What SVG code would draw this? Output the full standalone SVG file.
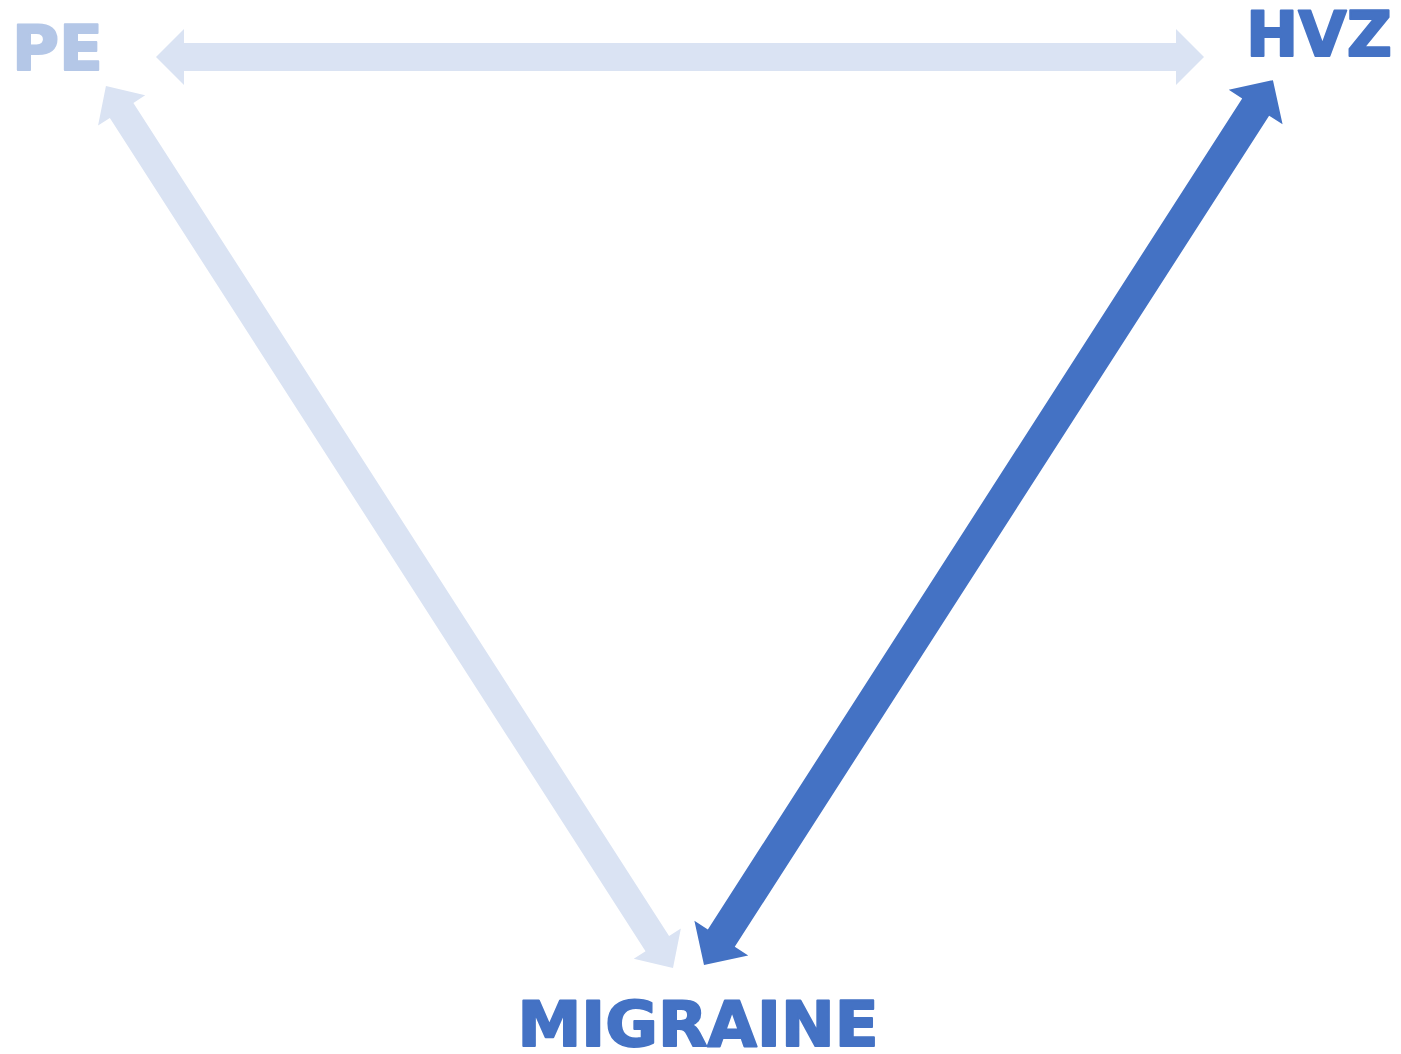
<svg xmlns="http://www.w3.org/2000/svg" width="1401" height="1054" viewBox="0 0 1401 1054">
<style>
.lbl{font-family:"DejaVu Sans","Liberation Sans",sans-serif;font-weight:bold;font-size:62px;text-anchor:middle;stroke-width:2;stroke-linejoin:round}
.light{fill:#DAE3F3}
.dark{fill:#4472C4}
</style>
<rect width="1401" height="1054" fill="#FFFFFF"/>
<g id="connectors">
<polygon id="pe-hvz" class="light" transform="translate(156,57)" points="0,0 28,-28 28,-14 1020,-14 1020,-28 1048,0 1020,28 1020,14 28,14 28,28"/>
<polygon id="migraine-pe" class="light" transform="translate(673,968) rotate(-122.74)" points="0,0 29,-28 29,-14 1019.5,-14 1019.5,-28 1048.5,0 1019.5,28 1019.5,14 29,14 29,28"/>
<polygon id="migraine-hvz" class="dark" transform="translate(704,965) rotate(-57.26)" points="0,0 32,-32 32,-16 1020,-16 1020,-32 1052,0 1020,32 1020,16 32,16 32,32"/>
</g>
<g id="node-pe"><text class="lbl" x="57.5" y="70" fill="#B4C7E7" stroke="#B4C7E7" textLength="91" lengthAdjust="spacingAndGlyphs">PE</text></g>
<g id="node-hvz"><text class="lbl" x="1319" y="55.5" fill="#4472C4" stroke="#4472C4" textLength="146" lengthAdjust="spacingAndGlyphs">HVZ</text></g>
<g id="node-migraine"><text class="lbl" x="698" y="1045.5" fill="#4472C4" stroke="#4472C4" textLength="361" lengthAdjust="spacingAndGlyphs">MIGRAINE</text></g>
</svg>
